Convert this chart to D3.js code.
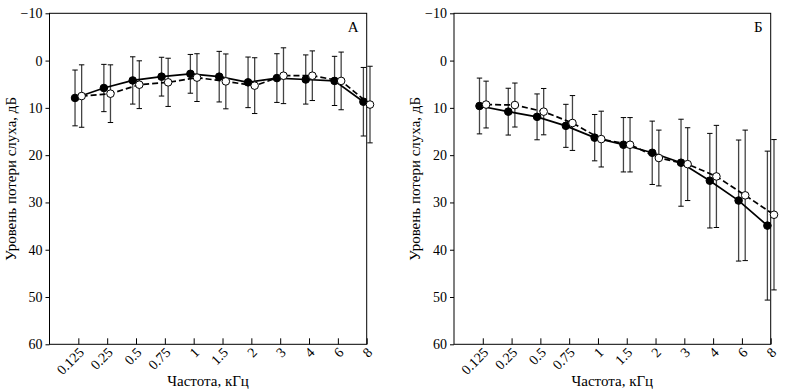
<!DOCTYPE html>
<html>
<head>
<meta charset="utf-8">
<script src="https://cdn.jsdelivr.net/npm/d3@7"></script>
<style>
  html, body { margin: 0; padding: 0; background: #fff; }
  svg { display: block; }
  text { font-family: "Liberation Serif", "Times New Roman", serif; fill: #000; }
</style>
</head>
<body>
<svg id="chart" width="789" height="391"></svg>
<script>
// ---- data ----
const frequencies = ["0.125", "0.25", "0.5", "0.75", "1", "1.5", "2", "3", "4", "6", "8"];
const yTicks = [-10, 0, 10, 20, 30, 40, 50, 60];

// Panel A
const aFilledMean = [7.9, 5.8, 4.2, 3.4, 2.8, 3.4, 4.6, 3.7, 4.0, 4.3, 8.7];
const aFilledSd   = [5.9, 5.0, 5.0, 4.1, 4.1, 5.35, 5.35, 5.15, 5.2, 5.2, 7.25];
const aOpenMean   = [7.5, 7.0, 5.1, 4.6, 3.6, 4.4, 5.3, 3.2, 3.2, 4.3, 9.3];
const aOpenSd     = [6.6, 6.1, 5.05, 5.1, 5.05, 5.8, 5.9, 5.9, 5.25, 6.1, 8.1];

// Panel Б
const bFilledMean = [9.6, 10.8, 11.9, 13.8, 16.3, 17.8, 19.5, 21.6, 25.4, 29.6, 34.9];
const bFilledSd   = [5.9, 4.95, 4.85, 4.55, 4.9, 5.75, 6.7, 9.2, 10.0, 12.8, 15.75];
const bOpenMean   = [9.3, 9.4, 10.8, 13.2, 16.6, 17.8, 20.6, 21.9, 24.5, 28.5, 32.6];
const bOpenSd     = [4.95, 4.65, 4.9, 5.8, 5.9, 5.75, 5.9, 7.7, 10.8, 13.8, 15.9];

const panels = [
  { label: "А", left: 49.5, right: 366.7, filled: aFilledMean, filledSd: aFilledSd, open: aOpenMean, openSd: aOpenSd },
  { label: "Б", left: 454, right: 770.7, filled: bFilledMean, filledSd: bFilledSd, open: bOpenMean, openSd: bOpenSd }
];

const plotTop = 13.3, plotBottom = 344.3;
const svg = d3.select("#chart");

panels.forEach(p => {
  const x = d3.scaleLinear().domain([-1, frequencies.length - 1]).range([p.left, p.right]);
  const y = d3.scaleLinear().domain([-10, 60]).range([plotTop, plotBottom]);
  const g = svg.append("g");
  const off = 3.3;

  // frame
  g.append("rect").attr("x", p.left).attr("y", plotTop)
    .attr("width", p.right - p.left).attr("height", plotBottom - plotTop)
    .attr("fill", "none").attr("stroke", "#000").attr("stroke-width", 1);

  // y axis
  const yAxis = d3.axisLeft(y).tickValues(yTicks).tickSize(4).tickPadding(3)
    .tickFormat(d => d < 0 ? "\u2212" + Math.abs(d) : d);
  const ya = g.append("g").attr("transform", `translate(${p.left},0)`).call(yAxis);
  ya.select(".domain").remove();
  ya.selectAll("line").attr("stroke", "#000");
  ya.selectAll("text").style("font-size", "14px").style("font-family", "Liberation Serif");

  // x axis (ticks inward)
  const idx = frequencies.map((_, i) => i);
  const xAxis = d3.axisBottom(x).tickValues(idx).tickSize(-6).tickFormat(i => frequencies[i]);
  const xa = g.append("g").attr("transform", `translate(0,${plotBottom})`).call(xAxis);
  xa.select(".domain").remove();
  xa.selectAll("line").attr("stroke", "#000");
  xa.selectAll("text")
    .style("font-size", "14px").style("font-family", "Liberation Serif")
    .attr("text-anchor", "end")
    .attr("y", 0).attr("dy", 0)
    .attr("transform", "translate(6,9) rotate(-45)");

  // axis titles
  g.append("text")
    .attr("transform", `translate(${p.left - 34},${(plotTop + plotBottom) / 2}) rotate(-90)`)
    .attr("text-anchor", "middle").style("font-size", "15px")
    .text("Уровень потери слуха, дБ");
  g.append("text")
    .attr("x", (p.left + p.right) / 2).attr("y", 386)
    .attr("text-anchor", "middle").style("font-size", "15px")
    .text("Частота, кГц");

  // panel label
  g.append("text").attr("x", p.right - 8).attr("y", 32)
    .attr("text-anchor", "end").style("font-size", "15px")
    .text(p.label);

  const series = [
    { mean: p.filled, sd: p.filledSd, dx: -off, dash: null, fill: "#000" },
    { mean: p.open, sd: p.openSd, dx: off, dash: "6,3", fill: "#fff" }
  ];

  // error bars
  series.forEach(s => {
    const eb = g.append("g");
    s.mean.forEach((m, i) => {
      const cx = x(i) + s.dx;
      const y0 = y(m - s.sd[i]), y1 = y(m + s.sd[i]);
      eb.append("line").attr("x1", cx).attr("x2", cx).attr("y1", y0).attr("y2", y1)
        .attr("stroke", "#444").attr("stroke-width", 1.3);
      [y0, y1].forEach(yy => eb.append("line")
        .attr("x1", cx - 2.7).attr("x2", cx + 2.7).attr("y1", yy).attr("y2", yy)
        .attr("stroke", "#000").attr("stroke-width", 1));
    });
  });

  // lines
  series.forEach(s => {
    const line = d3.line().x((d, i) => x(i) + s.dx).y(d => y(d));
    g.append("path").datum(s.mean).attr("d", line)
      .attr("fill", "none").attr("stroke", "#000").attr("stroke-width", 1.7)
      .attr("stroke-dasharray", s.dash);
  });

  // markers
  series.forEach(s => {
    g.append("g").selectAll("circle").data(s.mean).join("circle")
      .attr("cx", (d, i) => x(i) + s.dx).attr("cy", d => y(d)).attr("r", 3.8)
      .attr("fill", s.fill).attr("stroke", "#000").attr("stroke-width", 1);
  });
});
</script>
</body>
</html>
